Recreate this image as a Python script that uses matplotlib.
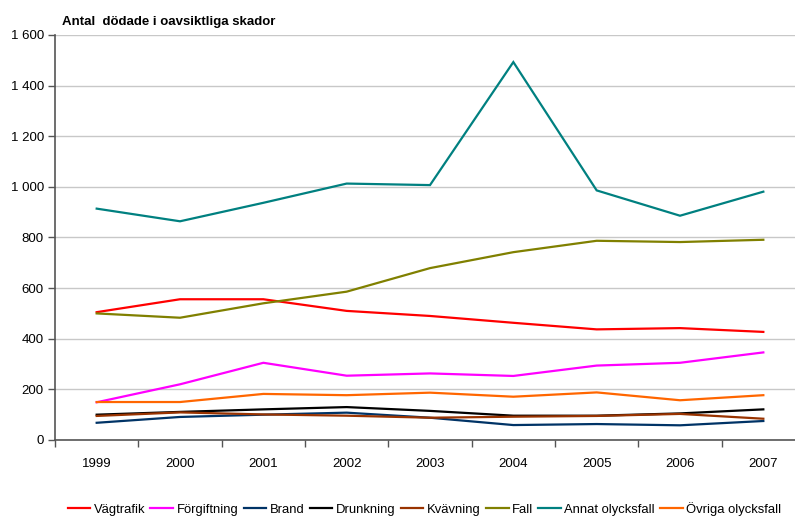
import matplotlib.pyplot as plt
import matplotlib.ticker as mticker
import numpy as np

plt.rcParams['font.family'] = ['Liberation Sans', 'DejaVu Sans']

years = ['1999', '2000', '2001', '2002', '2003', '2004', '2005', '2006', '2007']

vagtrafik = [505, 556, 556, 510, 490, 463, 437, 442, 427]
forgiftning = [149, 220, 305, 254, 263, 253, 294, 305, 346]
brand = [68, 91, 100, 108, 88, 59, 63, 58, 75]
drunkning = [100, 111, 121, 130, 115, 96, 96, 105, 121]
kvavning = [95, 109, 101, 96, 88, 92, 95, 103, 84]
fall = [500, 483, 540, 586, 679, 742, 787, 782, 791]
annat = [914, 864, 937, 1013, 1007, 1493, 986, 886, 981]
ovriga = [150, 150, 182, 177, 187, 171, 188, 157, 177]

series = [
    ('Vägtrafik', vagtrafik, '#ff0000'),
    ('Förgiftning', forgiftning, '#ff00ff'),
    ('Brand', brand, '#003366'),
    ('Drunkning', drunkning, '#000000'),
    ('Kvävning', kvavning, '#993300'),
    ('Fall', fall, '#808000'),
    ('Annat olycksfall', annat, '#008080'),
    ('Övriga olycksfall', ovriga, '#ff6600'),
]

fig = plt.figure(figsize=(7.95, 5.16), dpi=100)
ax = fig.add_axes([0.0692, 0.1473, 0.9308, 0.7849])

x = np.arange(len(years))
for name, vals, col in series:
    ax.plot(x, vals, color=col, lw=1.6, label=name, solid_joinstyle='miter')

ax.set_ylim(0, 1600)
ax.yaxis.set_major_locator(mticker.MultipleLocator(200))
ax.yaxis.set_major_formatter(mticker.FuncFormatter(lambda v, p: f'{int(v):,}'.replace(',', ' ')))
ax.grid(axis='y', color='#c8c8c8', lw=1)
ax.set_axisbelow(True)

# labels at the year centres, tick marks between years
ax.set_xticks(x)
ax.set_xticklabels(years)
ax.set_xticks(np.arange(-0.5, 8, 1), minor=True)
ax.set_xlim(-0.5, 8.38)
ax.tick_params(axis='x', which='major', length=0, pad=13, labelsize=9.5)
ax.tick_params(axis='x', which='minor', length=5, width=1, color='#555555')
ax.tick_params(axis='y', length=5, width=1, color='#555555', labelsize=9.5, pad=3)

for s in ['top', 'right']:
    ax.spines[s].set_visible(False)
for s in ['left', 'bottom']:
    ax.spines[s].set_color('#555555')
    ax.spines[s].set_linewidth(1.2)

fig.text(0.078, 0.958, 'Antal  dödade i oavsiktliga skador', fontsize=9.5,
         fontweight='bold', ha='left', va='center')

fig.legend(loc='center', bbox_to_anchor=(0.534, 0.014), ncol=8, frameon=False,
           fontsize=9.4, handlelength=1.75, handletextpad=0.25, columnspacing=0.4)

fig.savefig('out.png', dpi=100)
